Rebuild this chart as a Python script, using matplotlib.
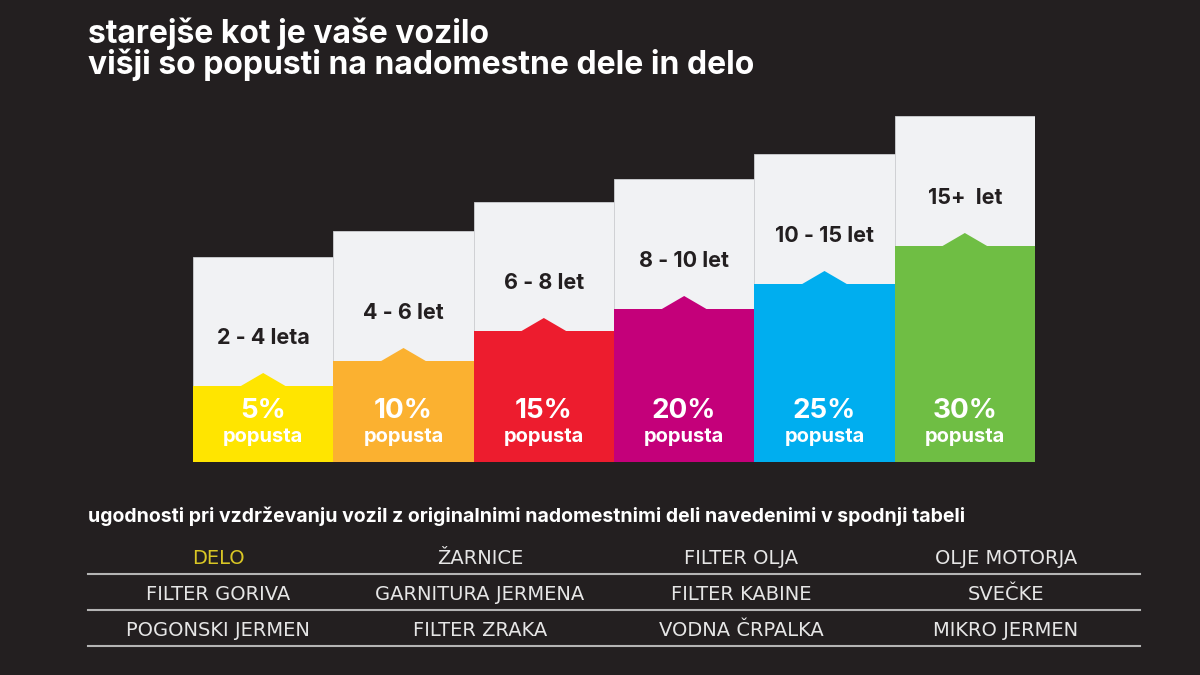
import matplotlib.pyplot as plt
from matplotlib.patches import Polygon

# bar data (heights, in pixels above the common base)
age_labels = ["2 - 4 leta", "4 - 6 let", "6 - 8 let", "8 - 10 let", "10 - 15 let", "15+  let"]
discounts = [5, 10, 15, 20, 25, 30]
box_heights = [205, 231, 260, 283, 308, 346]
fill_heights = [76, 101, 131, 153, 178, 216]
fill_colors = ["#ffe500", "#fbb130", "#ed1c2e", "#c4007a", "#00aeef", "#6fbe44"]

# parts table
parts = [
    ["DELO", "ŽARNICE", "FILTER OLJA", "OLJE MOTORJA"],
    ["FILTER GORIVA", "GARNITURA JERMENA", "FILTER KABINE", "SVEČKE"],
    ["POGONSKI JERMEN", "FILTER ZRAKA", "VODNA ČRPALKA", "MIKRO JERMEN"],
]

BG = "#231f20"
BOX = "#f1f2f4"
FONT = ["Inter", "DejaVu Sans"]
NARROW = ["Liberation Sans Narrow", "DejaVu Sans"]

W, H = 1200, 675
fig = plt.figure(figsize=(12, 6.75), dpi=100, facecolor=BG)

# full-figure axes in pixel coordinates for text and the table
bg = fig.add_axes([0, 0, 1, 1])
bg.set_xlim(0, W)
bg.set_ylim(H, 0)
bg.axis("off")

bg.text(88, 34, "starejše kot je vaše vozilo", color="white", fontsize=23,
        fontweight="bold", family=FONT, va="center")
bg.text(88, 65, "višji so popusti na nadomestne dele in delo", color="white",
        fontsize=23, fontweight="bold", family=FONT, va="center")

# bars axes: base at y=462 px, from x=193 to 1035 px
x0, x1, base, top = 193, 1035, 462, 100
ax = fig.add_axes([x0 / W, 1 - base / H, (x1 - x0) / W, (base - top) / H])
ax.set_xlim(-0.5, len(box_heights) - 0.5)
ax.set_ylim(0, base - top)
ax.axis("off")

xs = range(len(box_heights))
ax.bar(xs, box_heights, width=1.0, color=BOX, edgecolor="#cfd0d3", linewidth=0.6)
ax.bar(xs, fill_heights, width=1.0, color=fill_colors, linewidth=0)

peak_w, peak_h = 0.33, 13
for i, (h, c) in enumerate(zip(fill_heights, fill_colors)):
    ax.add_patch(Polygon([(i - peak_w / 2, h - 0.5), (i, h + peak_h), (i + peak_w / 2, h - 0.5)],
                         closed=True, color=c, linewidth=0))
    ax.text(i, h + 48, age_labels[i], ha="center", va="center", color=BG,
            fontsize=15.5, fontweight="bold", family=FONT)
    ax.text(i, 51, f"{discounts[i]}%", ha="center", va="center", color="white",
            fontsize=20, fontweight="bold", family=FONT)
    ax.text(i, 25, "popusta", ha="center", va="center", color="white",
            fontsize=14.5, fontweight="bold", family=FONT)

bg.text(88, 516, "ugodnosti pri vzdrževanju vozil z originalnimi nadomestnimi deli navedenimi v spodnji tabeli",
        color="white", fontsize=14, fontweight="bold", family=FONT, va="center")

col_x = [218, 480, 741, 1006]
row_y = [558, 594, 630]
for r, row in enumerate(parts):
    for c, name in enumerate(row):
        color = "#d9c625" if (r == 0 and c == 0) else "#e6e6e6"
        bg.text(col_x[c], row_y[r], name, ha="center", va="center", color=color,
                fontsize=14, family=NARROW)
    bg.plot([88, 1140], [row_y[r] + 16, row_y[r] + 16], color="#b4b4b4", linewidth=1.5)

fig.savefig("out.png", dpi=100, facecolor=BG)
